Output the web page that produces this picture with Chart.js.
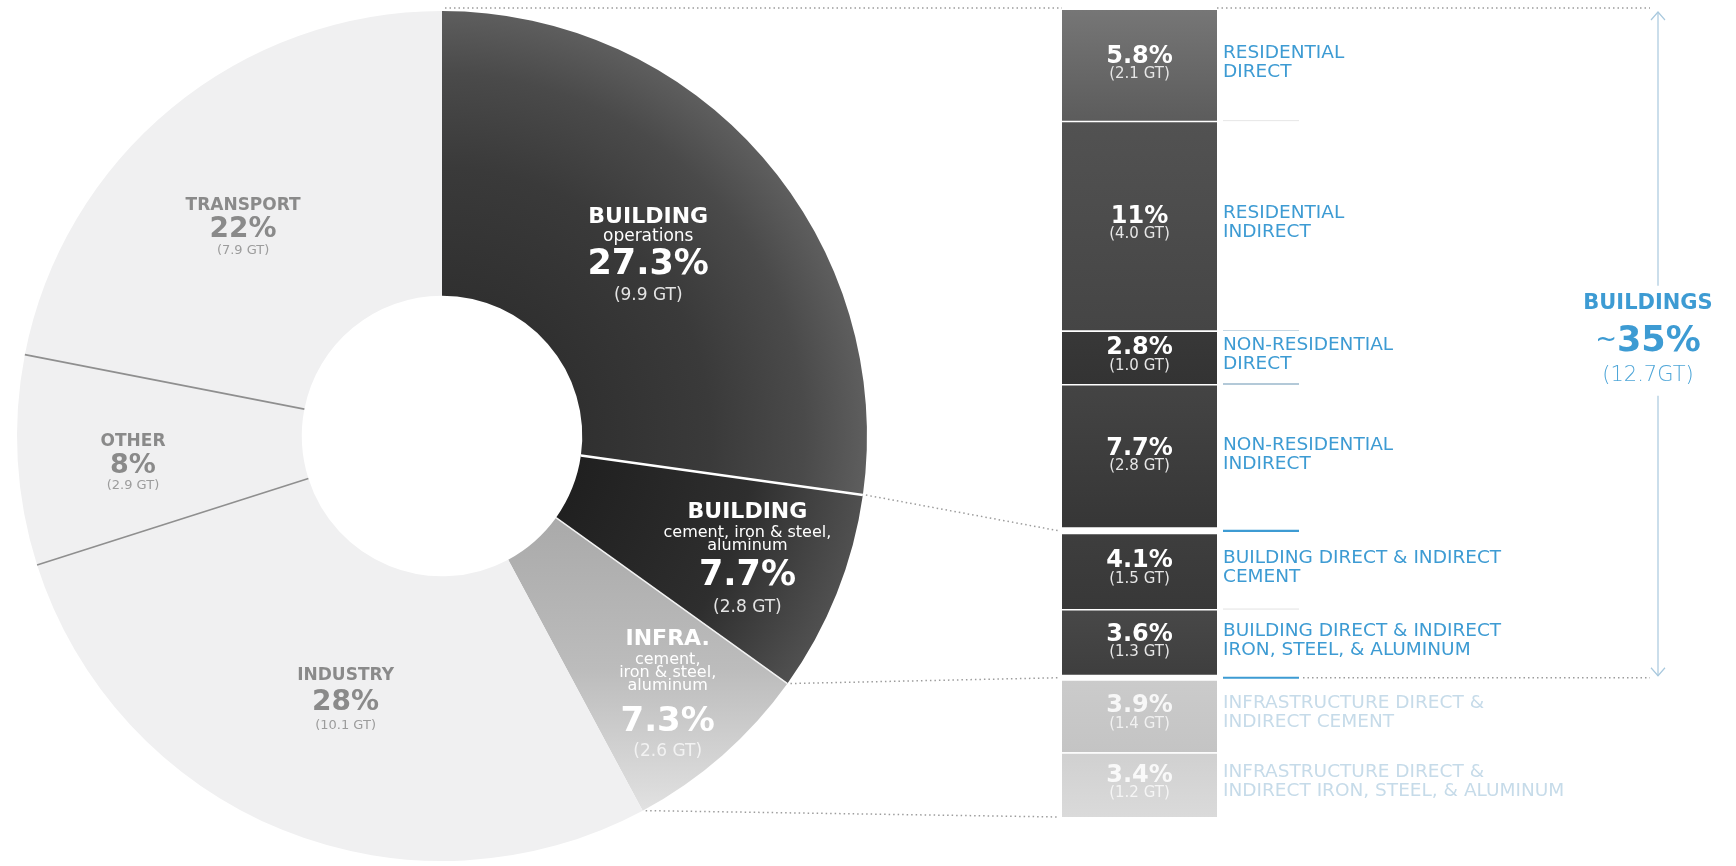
<!DOCTYPE html>
<html><head><meta charset="utf-8">
<script src="https://cdn.jsdelivr.net/npm/chart.js@4.4.1/dist/chart.umd.min.js"></script>
<style>
html,body{margin:0;padding:0;background:#fff;width:1736px;height:866px;overflow:hidden;}
#wrap{position:relative;width:1736px;height:866px;}
canvas{position:absolute;left:0;top:0;}
</style></head><body>
<div id="wrap"><canvas id="donut" width="1736" height="866"></canvas><canvas id="bar" width="1736" height="866"></canvas></div>
<script>
// ---------- DATA ----------
const sectorLabels = ['BUILDING', 'BUILDING', 'INFRA.', 'INDUSTRY', 'OTHER', 'TRANSPORT'];
const sectorSubLabels = [['operations'], ['cement, iron & steel,', 'aluminum'], ['cement,', 'iron & steel,', 'aluminum'], [], [], []];
const sectorShares = [27.3, 7.7, 7.3, 28, 8, 22];
const sectorGt = [9.9, 2.8, 2.6, 10.1, 2.9, 7.9];

const breakdownLabels = [
  ['RESIDENTIAL', 'DIRECT'],
  ['RESIDENTIAL', 'INDIRECT'],
  ['NON-RESIDENTIAL', 'DIRECT'],
  ['NON-RESIDENTIAL', 'INDIRECT'],
  ['BUILDING DIRECT & INDIRECT', 'CEMENT'],
  ['BUILDING DIRECT & INDIRECT', 'IRON, STEEL, & ALUMINUM'],
  ['INFRASTRUCTURE DIRECT &', 'INDIRECT CEMENT'],
  ['INFRASTRUCTURE DIRECT &', 'INDIRECT IRON, STEEL, & ALUMINUM']
];
const breakdownShares = [5.8, 11, 2.8, 7.7, 4.1, 3.6, 3.9, 3.4];
const breakdownGt = [2.1, 4.0, 1.0, 2.8, 1.5, 1.3, 1.4, 1.2];
// donut slice that each breakdown segment belongs to
const breakdownGroups = [0, 0, 0, 0, 1, 1, 2, 2];
const buildingsLabel = 'BUILDINGS';
const buildingsShare = 35;
const buildingsGt = 12.7;

// ---------- STYLE ----------
const FONT = '"DejaVu Sans", "Open Sans", sans-serif';
const BLUE = '#3d9bd3';
const fmtPct = v => String(v) + '%';
const fmtGt = v => '(' + v.toFixed(1) + ' GT)';

const SEPARATORS = {1: {color: '#ffffff', width: 2.5}, 2: {color: '#f2f2f2', width: 1.5}, 4: {color: '#8f8f8f', width: 1.6}, 5: {color: '#8f8f8f', width: 1.6}};
// r: fraction of outer radius, da: angle offset (deg); [font size, dy]
const SLICE_TEXT = [
  {r: 0.643, da: 0, color: '#fff', gtColor: '#e4e4e4', title: [22, -39], sub: [17, [-20]], pct: [35, 8], gt: [17, 39]},
  {r: 0.774, da: 0, color: '#fff', gtColor: '#e4e4e4', title: [22, -46], sub: [16, [-25, -12]], pct: [35, 18], gt: [17, 49]},
  {r: 0.805, da: 0, color: '#fff', gtColor: '#f2f2f2', title: [22, -54], sub: [16, [-33, -20, -7]], pct: [34, 29], gt: [17, 58]},
  {r: 0.661, da: -2.0, color: '#8a8a8a', gtColor: '#9c9c9c', title: [17, -24], sub: [12, []], pct: [28, 3], gt: [13, 26]},
  {r: 0.730, da: -1.8, color: '#8a8a8a', gtColor: '#9c9c9c', title: [17, -22], sub: [12, []], pct: [27, 2], gt: [13, 22]},
  {r: 0.680, da: -4.0, color: '#8a8a8a', gtColor: '#9c9c9c', title: [17, -21], sub: [12, []], pct: [28, 3], gt: [13, 24]}
];
const BAR_COLORS = [['#767676', '#5c5c5c'], ['#525252', '#454545'], ['#383838', '#333333'], ['#444444', '#363636'],
                    ['#3e3e3e', '#383838'], ['#484848', '#3e3e3e'], ['#cbcbcb', '#c4c4c4'], ['#d0d0d0', '#dadada']];
const BAR_BORDERS = [0, 1.5, 1.5, 1.5, 3.5, 1.5, 3, 1.5];   // top white separator
const BAR_BORDERS_BOTTOM = [0, 0, 0, 3.5, 0, 3, 0, 0];
const TICKS = [{color: '#e6e6e6', w: 1}, {color: '#c3d6e3', w: 1}, {color: '#9ab7cb', w: 1.5}, {color: '#3d9bd3', w: 2.2}, {color: '#e2e2e2', w: 1}, {color: '#3d9bd3', w: 2.2}, null];

function sliceFill(ctx) {
  const chart = ctx.chart, a = chart.chartArea, i = ctx.dataIndex;
  const flat = ['#3b3b3b', '#2e2e2e', '#b9b9b9', '#f0f0f1', '#f0f0f1', '#f0f0f1'];
  if (!a || i > 2) return flat[i];
  const cx = (a.left + a.right) / 2, cy = (a.top + a.bottom) / 2;
  const R = Math.min(a.right - a.left, a.bottom - a.top) / 2;
  const c = chart.ctx;
  let g;
  if (i === 0) {
    g = c.createRadialGradient(cx, cy, R * 0.33, cx, cy, R);
    g.addColorStop(0, '#303030'); g.addColorStop(0.45, '#3a3a3a'); g.addColorStop(0.78, '#4a4a4a'); g.addColorStop(1, '#5e5e5e');
  } else if (i === 1) {
    g = c.createRadialGradient(cx, cy, R * 0.33, cx, cy, R);
    g.addColorStop(0, '#202020'); g.addColorStop(0.6, '#2e2e2e'); g.addColorStop(1, '#505050');
  } else {
    g = c.createLinearGradient(0, cy + R * 0.18, 0, cy + R);
    g.addColorStop(0, '#a9a9a9'); g.addColorStop(0.45, '#bcbcbc'); g.addColorStop(0.8, '#dcdcdc'); g.addColorStop(1, '#f0f0f0');
  }
  return g;
}

function barFill(ctx) {
  const chart = ctx.chart, i = ctx.datasetIndex, y = chart.scales && chart.scales.y;
  const cols = BAR_COLORS[i];
  if (!y || y.top === undefined) return cols[0];
  let start = 0; for (let k = 0; k < i; k++) start += breakdownShares[k];
  const y0 = y.getPixelForValue(start), y1 = y.getPixelForValue(start + breakdownShares[i]);
  if (!isFinite(y0) || !isFinite(y1)) return cols[0];
  const g = chart.ctx.createLinearGradient(0, y0, 0, y1);
  g.addColorStop(0, cols[0]); g.addColorStop(1, cols[1]);
  return g;
}

function drawLines(c, x, y, lines, align) {
  c.textAlign = align || 'center'; c.textBaseline = 'middle';
  lines.forEach(l => { c.font = l.font; c.fillStyle = l.color; c.fillText(l.t, x, y + l.dy); });
}

const donutDecor = {
  id: 'donutDecor',
  afterDatasetsDraw(chart) {
    const c = chart.ctx, arcs = chart.getDatasetMeta(0).data;
    c.save();
    Object.keys(SEPARATORS).forEach(k => {
      const s = SEPARATORS[k];
      const p = arcs[k].getProps(['x', 'y', 'startAngle', 'innerRadius', 'outerRadius'], true);
      c.strokeStyle = s.color; c.lineWidth = s.width; c.beginPath();
      c.moveTo(p.x + p.innerRadius * Math.cos(p.startAngle), p.y + p.innerRadius * Math.sin(p.startAngle));
      c.lineTo(p.x + p.outerRadius * Math.cos(p.startAngle), p.y + p.outerRadius * Math.sin(p.startAngle));
      c.stroke();
    });
    arcs.forEach((arc, i) => {
      const p = arc.getProps(['x', 'y', 'startAngle', 'endAngle', 'outerRadius'], true);
      const st = SLICE_TEXT[i];
      const mid = (p.startAngle + p.endAngle) / 2 + st.da * Math.PI / 180;
      const ax = p.x + p.outerRadius * st.r * Math.cos(mid), ay = p.y + p.outerRadius * st.r * Math.sin(mid);
      const lines = [{t: sectorLabels[i], font: 'bold ' + st.title[0] + 'px ' + FONT, color: st.color, dy: st.title[1]}];
      sectorSubLabels[i].forEach((t, j) => lines.push({t, font: st.sub[0] + 'px ' + FONT, color: st.color, dy: st.sub[1][j]}));
      lines.push({t: fmtPct(sectorShares[i]), font: 'bold ' + st.pct[0] + 'px ' + FONT, color: st.color, dy: st.pct[1]});
      lines.push({t: fmtGt(sectorGt[i]), font: st.gt[0] + 'px ' + FONT, color: st.gtColor, dy: st.gt[1]});
      drawLines(c, ax, ay, lines);
    });
    c.restore();
  }
};

let donutChart = null;

function dotted(c, x0, y0, x1, y1) {
  c.beginPath(); c.moveTo(x0, y0); c.lineTo(x1, y1); c.stroke();
}

const barDecor = {
  id: 'barDecor',
  afterDatasetsDraw(chart) {
    const c = chart.ctx, ys = chart.scales.y;
    const metas = breakdownShares.map((v, i) => chart.getDatasetMeta(i).data[0]);
    const b0 = metas[0].getProps(['x', 'width'], true);
    const left = b0.x - b0.width / 2, right = b0.x + b0.width / 2;
    const labelX = right + 6;
    const bounds = [ys.getPixelForValue(0)];
    let cum = 0;
    breakdownShares.forEach(v => { cum += v; bounds.push(ys.getPixelForValue(cum)); });
    c.save();
    breakdownShares.forEach((v, i) => {
      const mid = (bounds[i] + bounds[i + 1]) / 2;
      const infra = breakdownGroups[i] === 2;
      drawLines(c, b0.x, mid, [
        {t: fmtPct(v), font: 'bold 24px ' + FONT, color: infra ? 'rgba(255,255,255,0.85)' : '#ffffff', dy: -9},
        {t: fmtGt(breakdownGt[i]), font: '15px ' + FONT, color: infra ? 'rgba(255,255,255,0.75)' : '#e6e6e6', dy: 9}
      ]);
      const lc = infra ? '#c6dbe9' : BLUE;
      drawLines(c, labelX, mid, [
        {t: breakdownLabels[i][0], font: '18.5px ' + FONT, color: lc, dy: -12},
        {t: breakdownLabels[i][1], font: '18.5px ' + FONT, color: lc, dy: 7}
      ], 'left');
      const tk = TICKS[i];
      if (tk) {
        c.strokeStyle = tk.color; c.lineWidth = tk.w; c.beginPath();
        c.moveTo(labelX, bounds[i + 1]); c.lineTo(labelX + 76, bounds[i + 1]); c.stroke();
      }
    });
    const groupEnd = [];
    breakdownGroups.forEach((g, i) => { groupEnd[g] = bounds[i + 1]; });
    const buildingsBottom = groupEnd[1];
    const arrowX = 1658;
    c.strokeStyle = '#9c9c9c'; c.lineWidth = 1.5; c.setLineDash([1.5, 3]);
    if (donutChart) {
      const arcs = donutChart.getDatasetMeta(0).data;
      const a0 = arcs[0].getProps(['x', 'y', 'startAngle', 'outerRadius'], true);
      const topY = bounds[0] - 2;
      dotted(c, a0.x + 3, topY, left, topY);
      dotted(c, right, topY, arrowX - 8, topY);
      [0, 1, 2].forEach(g => {
        const a = arcs[g].getProps(['x', 'y', 'endAngle', 'outerRadius'], true);
        const px = a.x + a.outerRadius * Math.cos(a.endAngle), py = a.y + a.outerRadius * Math.sin(a.endAngle);
        dotted(c, px + 3, py, left - 3, groupEnd[g]);
      });
    }
    dotted(c, labelX + 80, buildingsBottom, arrowX - 8, buildingsBottom);
    c.setLineDash([]);
    // buildings arrow
    const yTop = bounds[0] + 2, yBot = buildingsBottom - 2;
    const midY = (yTop + yBot) / 2;
    c.strokeStyle = '#a9c9de'; c.lineWidth = 1.2;
    c.beginPath(); c.moveTo(arrowX, yTop); c.lineTo(arrowX, midY - 58); c.moveTo(arrowX, midY + 52); c.lineTo(arrowX, yBot); c.stroke();
    c.beginPath(); c.moveTo(arrowX - 7, yTop + 8); c.lineTo(arrowX, yTop); c.lineTo(arrowX + 7, yTop + 8);
    c.moveTo(arrowX - 7, yBot - 8); c.lineTo(arrowX, yBot); c.lineTo(arrowX + 7, yBot - 8); c.stroke();
    // buildings label
    const tx = arrowX - 10;
    c.textAlign = 'center'; c.textBaseline = 'middle';
    c.font = 'bold 21px ' + FONT; c.fillStyle = BLUE; c.fillText(buildingsLabel, tx, midY - 40);
    c.font = 'bold 35px ' + FONT;
    const pctT = fmtPct(buildingsShare); const w1 = c.measureText(pctT).width;
    c.font = '26px ' + FONT; const w0 = c.measureText('~').width;
    const sx = tx - (w0 + w1) / 2;
    c.textAlign = 'left';
    c.fillText('~', sx, midY - 4);
    c.font = 'bold 35px ' + FONT; c.fillText(pctT, sx + w0, midY - 2);
    c.textAlign = 'center';
    c.font = '200 21px ' + FONT; c.fillStyle = '#4fa6d8'; c.fillText('(' + buildingsGt + 'GT)', tx, midY + 32);
    c.restore();
  }
};

donutChart = new Chart(document.getElementById('donut'), {
  type: 'doughnut',
  data: {labels: sectorLabels, datasets: [{data: sectorShares, backgroundColor: sliceFill, borderWidth: 0}]},
  options: {
    responsive: false, animation: false, devicePixelRatio: 1, events: [], cutout: '33%',
    layout: {padding: {left: 17, top: 11, right: 869, bottom: 5}},
    plugins: {legend: {display: false}, tooltip: {enabled: false}}
  },
  plugins: [donutDecor]
});

const barTotal = breakdownShares.reduce((s, v) => s + v, 0);
new Chart(document.getElementById('bar'), {
  type: 'bar',
  data: {
    labels: ['Buildings & infrastructure'],
    datasets: breakdownShares.map((v, i) => ({
      label: breakdownLabels[i].join(' '), data: [v], backgroundColor: barFill,
      borderColor: '#ffffff', borderWidth: {top: BAR_BORDERS[i], bottom: BAR_BORDERS_BOTTOM[i], left: 0, right: 0},
      borderSkipped: false, barPercentage: 1, categoryPercentage: 1, inflateAmount: 0
    }))
  },
  options: {
    responsive: false, animation: false, devicePixelRatio: 1, events: [],
    layout: {padding: {left: 1062, right: 1736 - 1217, top: 10, bottom: 866 - 817}},
    scales: {
      x: {display: false, stacked: true},
      y: {display: false, stacked: true, reverse: true, min: 0, max: barTotal}
    },
    plugins: {legend: {display: false}, tooltip: {enabled: false}}
  },
  plugins: [barDecor]
});
</script>
</body></html>
